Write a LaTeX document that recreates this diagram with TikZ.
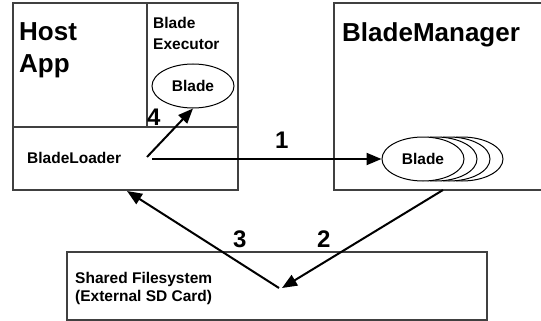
\documentclass[tikz,border=0pt]{standalone}
\usepackage{fontspec}
\setmainfont{Liberation Sans}
\usetikzlibrary{arrows.meta,shapes.geometric}
\begin{document}
\begin{tikzpicture}[x=1pt,y=-1pt,
  frame/.style={draw=black!75,line width=1.3pt},
  bigtitle/.style={font=\bfseries\fontsize{26}{30}\selectfont,anchor=base west,inner sep=0pt},
  label/.style={font=\bfseries\fontsize{15.5}{18}\selectfont,anchor=base west,inner sep=0pt},
  stepnum/.style={font=\bfseries\fontsize{24}{28}\selectfont,anchor=base west,inner sep=0pt},
  blade/.style={draw=black,line width=1pt,fill=white,ellipse,minimum width=82pt,minimum height=44pt,inner sep=0pt,font=\bfseries\fontsize{15.5}{18}\selectfont},
  flow/.style={draw=black,line width=2pt,-{Triangle[length=15pt,width=12pt]}}]
\useasboundingbox (0,0) rectangle (541,321);

% Host application with its loader and executor areas
\draw[frame] (13,3) rectangle (238,190);
\draw[frame] (13,127) -- (238,127);
\draw[frame] (147,3) -- (147,127);
\node[bigtitle] (host) at (19,41) {Host};
\node[bigtitle] (app) at (19,73) {App};
\node[label] (exec1) at (153,29) {Blade};
\node[label] (exec2) at (153,50) {Executor};
\node[blade] (runblade) at (193,86) {Blade};
\node[label] (loader) at (27,163) {BladeLoader};
\coordinate (loadout) at (152,159);
\coordinate (loadup) at (147,157);
\coordinate (hostin) at (127,191);

% Blade manager with a stack of blades
\draw[frame] (334,3) rectangle (548,190);
\node[bigtitle] (mgr) at (342,42) {BladeManager};
\node[blade] (b4) at (462,159) {};
\node[blade] (b3) at (449,159) {};
\node[blade] (b2) at (436,159) {};
\node[blade] (b1) at (423,159) {Blade};
\coordinate (mgrout) at (443,190);

% Shared storage
\draw[frame] (67,252) rectangle (487,320);
\node[label] (fs1) at (75,283) {Shared Filesystem};
\node[label] (fs2) at (75,301) {(External SD Card)};
\coordinate (fsin) at (282,288);
\coordinate (fsout) at (279,288);

% Numbered flows
\draw[flow] (loadout) -- (b1.west);
\draw[flow] (mgrout) -- (fsin);
\draw[flow] (fsout) -- (hostin);
\draw[flow] (loadup) -- (runblade.south);

\node[stepnum] (n1) at (275,148) {1};
\node[stepnum] (n2) at (317,247) {2};
\node[stepnum] (n3) at (233,247) {3};
\node[stepnum] (n4) at (147,125) {4};
\end{tikzpicture}
\end{document}
